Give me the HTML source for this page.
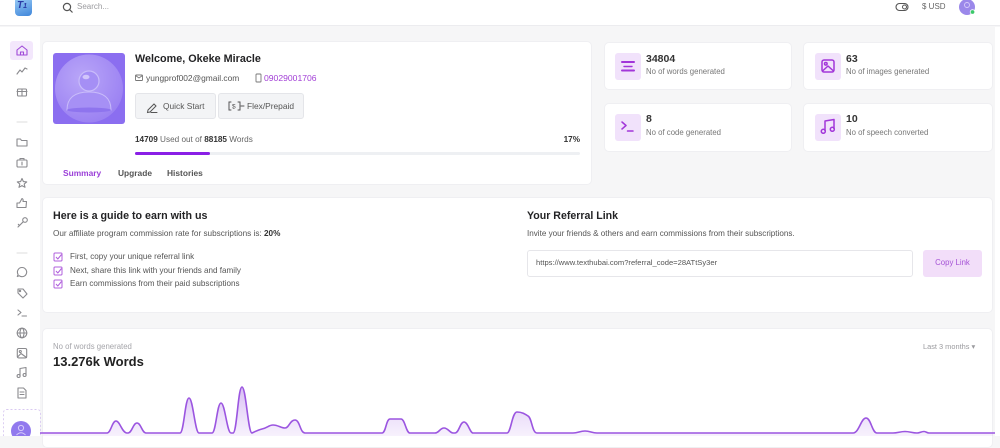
<!DOCTYPE html>
<html><head><meta charset="utf-8">
<style>
*{margin:0;padding:0;box-sizing:border-box}
body{width:1000px;height:436px;overflow:hidden;background:#f6f6f7;font-family:"Liberation Sans",Arial,sans-serif;position:relative;color:#333}
.a{position:absolute}
.t{position:absolute;white-space:nowrap;line-height:12px;height:12px}
.card{position:absolute;background:#fff;border-radius:5px;border:1px solid #efeff2}
.btn{position:absolute;background:#f3f4f6;border:1px solid #e4e5e9;border-radius:3px}
b{font-weight:bold}
</style></head><body>
<!-- top bar -->
<div class="a" style="left:0;top:0;width:1000px;height:26px;background:#fff;border-bottom:1px solid #ececef"></div>
<!-- sidebar -->
<div class="a" style="left:0;top:27px;width:40px;height:409px;background:#fff"></div>
<!-- right strip -->
<div class="a" style="left:995px;top:27px;width:5px;height:409px;background:#fff"></div>

<!-- cards -->
<div class="card" style="left:42px;top:41px;width:550px;height:144px"></div>
<div class="card" style="left:604px;top:42px;width:188px;height:48px"></div>
<div class="card" style="left:803px;top:42px;width:190px;height:48px"></div>
<div class="card" style="left:604px;top:103px;width:188px;height:49px"></div>
<div class="card" style="left:803px;top:103px;width:190px;height:49px"></div>
<div class="card" style="left:42px;top:197px;width:951px;height:116px"></div>
<div class="card" style="left:42px;top:328px;width:951px;height:120px"></div>

<!-- top bar content -->
<div class="a" style="left:15px;top:-3px;width:17px;height:19px;border-radius:4px;background:linear-gradient(160deg,#9fd0f7,#3f86da)"></div>
<div class="t" style="left:17px;top:0px;font-size:10px;font-weight:bold;font-style:italic;color:#2a3aa6;line-height:12px">T<span style="font-size:7px">1</span></div>
<div class="t" style="left:77px;top:1px;font-size:8px;color:#9a9a9e">Search...</div>
<div class="t" style="left:922px;top:1px;font-size:8px;color:#666">$ USD</div>

<!-- profile card -->
<div class="t" style="left:135px;top:53px;font-size:10.8px;font-weight:bold;color:#232325">Welcome, Okeke Miracle</div>
<div class="t" style="left:146px;top:72px;font-size:8.4px;color:#555">yungprof002@gmail.com</div>
<div class="t" style="left:264px;top:72px;font-size:8.6px;color:#a23fd6">09029001706</div>
<div class="btn" style="left:135px;top:93px;width:81px;height:26px"></div>
<div class="btn" style="left:218px;top:93px;width:86px;height:26px"></div>
<div class="t" style="left:163px;top:100px;font-size:8.4px;color:#555">Quick Start</div>
<div class="t" style="left:247px;top:100px;font-size:8.4px;color:#555">Flex/Prepaid</div>
<div class="t" style="left:135px;top:134px;font-size:8.2px;color:#666"><b style="color:#333">14709</b> Used out of <b style="color:#333">88185</b> Words</div>
<div class="t" style="left:540px;top:134px;width:40px;text-align:right;font-size:8.2px;font-weight:bold;color:#333">17%</div>
<div class="a" style="left:135px;top:152px;width:445px;height:3px;background:#eef0f3;border-radius:2px"></div>
<div class="a" style="left:135px;top:152px;width:75px;height:3px;background:#8a1fe6;border-radius:2px"></div>
<div class="t" style="left:63px;top:167px;font-size:8.4px;font-weight:bold;color:#9b3fd8">Summary</div>
<div class="t" style="left:118px;top:167px;font-size:8.4px;font-weight:bold;color:#555">Upgrade</div>
<div class="t" style="left:167px;top:167px;font-size:8.4px;font-weight:bold;color:#555">Histories</div>

<!-- stat cards -->
<div class="a" style="left:615px;top:53px;width:26px;height:27px;border-radius:3px;background:#f1e2fb"></div>
<div class="a" style="left:815px;top:53px;width:26px;height:27px;border-radius:3px;background:#f1e2fb"></div>
<div class="a" style="left:615px;top:114px;width:26px;height:27px;border-radius:3px;background:#f1e2fb"></div>
<div class="a" style="left:815px;top:114px;width:26px;height:27px;border-radius:3px;background:#f1e2fb"></div>
<div class="t" style="left:646px;top:53px;font-size:10.5px;font-weight:bold;color:#333">34804</div>
<div class="t" style="left:646px;top:66px;font-size:7.8px;color:#777">No of words generated</div>
<div class="t" style="left:846px;top:53px;font-size:10.5px;font-weight:bold;color:#333">63</div>
<div class="t" style="left:846px;top:66px;font-size:7.8px;color:#777">No of images generated</div>
<div class="t" style="left:646px;top:113px;font-size:10.5px;font-weight:bold;color:#333">8</div>
<div class="t" style="left:646px;top:127px;font-size:7.8px;color:#777">No of code generated</div>
<div class="t" style="left:846px;top:113px;font-size:10.5px;font-weight:bold;color:#333">10</div>
<div class="t" style="left:846px;top:127px;font-size:7.8px;color:#777">No of speech converted</div>

<!-- guide card -->
<div class="t" style="left:53px;top:210px;font-size:10.7px;font-weight:bold;color:#232325">Here is a guide to earn with us</div>
<div class="t" style="left:53px;top:228px;font-size:8.2px;color:#555">Our affiliate program commission rate for subscriptions is: <b style="color:#333">20%</b></div>
<div class="t" style="left:70px;top:251px;font-size:8.1px;color:#555">First, copy your unique referral link</div>
<div class="t" style="left:70px;top:265px;font-size:8.1px;color:#555">Next, share this link with your friends and family</div>
<div class="t" style="left:70px;top:278px;font-size:8.1px;color:#555">Earn commissions from their paid subscriptions</div>
<div class="t" style="left:527px;top:210px;font-size:10.6px;font-weight:bold;color:#232325">Your Referral Link</div>
<div class="t" style="left:527px;top:228px;font-size:8.1px;color:#555">Invite your friends &amp; others and earn commissions from their subscriptions.</div>
<div class="a" style="left:527px;top:250px;width:386px;height:27px;border:1px solid #e6e6ea;border-radius:3px;background:#fff"></div>
<div class="t" style="left:536px;top:257px;font-size:7.6px;color:#555">https://www.texthubai.com?referral_code=28ATtSy3er</div>
<div class="a" style="left:923px;top:250px;width:59px;height:27px;border-radius:3px;background:#f2def9"></div>
<div class="t" style="left:923px;top:257px;width:59px;text-align:center;font-size:7.8px;color:#a552d6">Copy Link</div>

<!-- chart card -->
<div class="t" style="left:53px;top:341px;font-size:7.8px;color:#a5a5aa">No of words generated</div>
<div class="t" style="left:53px;top:354px;font-size:13px;line-height:16px;height:16px;font-weight:bold;color:#222">13.276k Words</div>
<div class="t" style="left:923px;top:341px;font-size:7.4px;color:#9a9a9e">Last 3 months &#9662;</div>

<svg class="a" style="left:0;top:0" width="1000" height="436" viewBox="0 0 1000 436">
  <defs>
    <linearGradient id="g" x1="0" y1="387" x2="0" y2="436" gradientUnits="userSpaceOnUse">
      <stop offset="0" stop-color="#b07ce9" stop-opacity="0.5"/>
      <stop offset="1" stop-color="#c9a2f0" stop-opacity="0.15"/>
    </linearGradient>
    <radialGradient id="av" cx="0.4" cy="0.35" r="0.7">
      <stop offset="0" stop-color="#b9a6f8"/>
      <stop offset="1" stop-color="#9a80f2"/>
    </radialGradient>
  </defs>
  <!-- top bar icons -->
  <circle cx="67" cy="7" r="3.6" fill="none" stroke="#555" stroke-width="1.2"/>
  <line x1="69.7" y1="9.7" x2="72.5" y2="12.5" stroke="#555" stroke-width="1.2"/>
  <rect x="896" y="3.5" width="12" height="7" rx="3.5" fill="none" stroke="#555" stroke-width="1.1"/>
  <circle cx="904.5" cy="7" r="2" fill="none" stroke="#555" stroke-width="1"/>
  <circle cx="967" cy="7" r="8" fill="#9b88ea"/>
  <circle cx="967" cy="5" r="2.5" fill="none" stroke="#d8ccfb" stroke-width="0.9"/>
  <circle cx="972.5" cy="12" r="2.3" fill="#3cc86a" stroke="#fff" stroke-width="0.8"/>

  <!-- sidebar -->
  <rect x="10" y="41" width="23" height="19" rx="3" fill="#f3e7fc"/>
  <g fill="none" stroke="#a04bd8" stroke-width="1.1" stroke-linejoin="round">
    <path d="M17,50 L22,46 L27,50 L27,55 L17,55 Z"/>
    <path d="M20.5,55 L20.5,52 L23.5,52 L23.5,55"/>
  </g>
  <g fill="none" stroke="#8a8a8e" stroke-width="1.1" stroke-linejoin="round" stroke-linecap="round">
    <polyline points="17,74 20,70 22,72 25,68 27,69"/>
    <rect x="17.5" y="89" width="9" height="7" rx="1"/><line x1="22" y1="89" x2="22" y2="96"/><line x1="17" y1="91.5" x2="27" y2="91.5"/>
    <line x1="17" y1="122" x2="27" y2="122" stroke="#ddd"/>
    <path d="M17,139 L20.5,139 L21.5,140.5 L27,140.5 L27,146 L17,146 Z"/>
    <rect x="17" y="160" width="10" height="7" rx="1"/><path d="M20,160 L20,158.5 L24,158.5 L24,160"/><line x1="22" y1="162" x2="22" y2="165"/>
    <path d="M22,178.5 L23.4,181.6 L26.7,181.9 L24.2,184 L25,187.3 L22,185.6 L19,187.3 L19.8,184 L17.3,181.9 L20.6,181.6 Z"/>
    <path d="M17,203 L19.5,203 L22,198.5 Q23.5,199 23,201.5 L26.5,201.5 L26,207.5 L17,207.5 Z"/>
    <circle cx="25" cy="220" r="2.3"/><line x1="23.3" y1="221.7" x2="18" y2="227"/><line x1="19.5" y1="225.5" x2="18.3" y2="224.3"/>
    <line x1="17" y1="253" x2="27" y2="253" stroke="#ddd"/>
    <path d="M22,267.5 A4.6,4.6 0 1 1 19.2,275.7 L17.3,276.5 L18.1,274.5 A4.6,4.6 0 0 1 22,267.5 Z"/>
    <path d="M18,289 L23,289 L27,294 L23,298 L18,293 Z"/><circle cx="20" cy="291" r="0.7"/>
    <polyline points="18,310 21,312.5 18,315"/><line x1="22" y1="316" x2="26.5" y2="316"/>
    <circle cx="22" cy="333" r="4.8"/><ellipse cx="22" cy="333" rx="2" ry="4.8"/><line x1="17.2" y1="333" x2="26.8" y2="333"/>
    <rect x="17.3" y="348.5" width="9.4" height="9.4" rx="1.5"/><circle cx="20.3" cy="351.5" r="1"/><polyline points="17.5,357 21,353.5 26.5,357.5"/>
    <path d="M20,376 L20,368.5 L26,367.5 L26,375"/><circle cx="18.6" cy="376" r="1.5"/><circle cx="24.6" cy="375" r="1.5"/>
    <path d="M18,388 L23.5,388 L26,390.5 L26,398 L18,398 Z"/><line x1="20" y1="392" x2="24" y2="392"/><line x1="20" y1="394.5" x2="24" y2="394.5"/>
  </g>
  <rect x="3.5" y="409.5" width="37" height="30" rx="3" fill="none" stroke="#d9c9f1" stroke-width="0.9" stroke-dasharray="2,2"/>
  <circle cx="21" cy="431" r="10" fill="#9179ee"/>
  <circle cx="21" cy="428" r="2.6" fill="none" stroke="#d6cbfa" stroke-width="1"/>
  <path d="M16.5,435 Q21,430.5 25.5,435" fill="none" stroke="#d6cbfa" stroke-width="1"/>

  <!-- profile avatar -->
  <rect x="53" y="53" width="72" height="71" rx="3" fill="#8b6ef0"/>
  <circle cx="89" cy="88.5" r="34" fill="url(#av)"/>
  <circle cx="89" cy="81" r="10" fill="#a58ff5" stroke="#c9bcfa" stroke-width="1.2"/>
  <ellipse cx="86" cy="77" rx="3.5" ry="2.3" fill="#ddd3fc" opacity="0.8"/>
  <path d="M67,110 Q67,92 89,92 Q111,92 111,110 Z" fill="#a690f5" stroke="#c9bcfa" stroke-width="1"/>
  <ellipse cx="89" cy="110" rx="22" ry="2.5" fill="#8e74ee"/>

  <!-- profile small icons -->
  <g fill="none" stroke="#777" stroke-width="0.9">
    <rect x="135.5" y="75" width="7" height="5.5" rx="0.8"/><polyline points="135.5,75.5 139,78 142.5,75.5"/>
    <rect x="256" y="74" width="5" height="8" rx="0.8"/>
  </g>
  <g fill="none" stroke="#555" stroke-width="1" stroke-linecap="round">
    <path d="M148,110 L154,104 L156,106 L150,112 L147.5,112.5 Z"/><line x1="151" y1="112.5" x2="157" y2="112.5"/>
    <path d="M231,102 L229,102 L229,110 L231,110"/><path d="M238,102 L240,102 L240,110 L238,110"/>
    <line x1="241" y1="106" x2="244" y2="106"/>
  </g>
  <text x="232" y="108.5" font-family="Liberation Sans, sans-serif" font-size="6.5" fill="#555">$</text>

  <!-- stat icons -->
  <g fill="none" stroke="#a236d9" stroke-width="2" stroke-linecap="round">
    <line x1="622" y1="62" x2="634" y2="62"/><line x1="624" y1="66.5" x2="632" y2="66.5" stroke-width="1.4"/><line x1="622" y1="70.5" x2="634" y2="70.5"/>
  </g>
  <g fill="none" stroke="#a236d9" stroke-width="1.5" stroke-linejoin="round">
    <rect x="822" y="60" width="12" height="12" rx="2"/><circle cx="825.8" cy="63.8" r="1.3"/><polyline points="822.5,71 828,66 833.5,71"/>
  </g>
  <g fill="none" stroke="#a236d9" stroke-width="1.5" stroke-linecap="round" stroke-linejoin="round">
    <polyline points="622,122 626,125.5 622,129"/><line x1="627.5" y1="131" x2="633" y2="131"/>
  </g>
  <g fill="none" stroke="#a236d9" stroke-width="1.5" stroke-linejoin="round">
    <path d="M825,131 L825,121 L834,119.5 L834,129"/><circle cx="823.3" cy="131.3" r="2"/><circle cx="832.3" cy="129.3" r="2"/>
  </g>

  <!-- check icons -->
  <g fill="none" stroke="#b060dc" stroke-width="1" stroke-linejoin="round">
    <rect x="54" y="253" width="8" height="8" rx="1"/><polyline points="56,257 57.8,259 61.5,254.5"/>
    <rect x="54" y="267" width="8" height="8" rx="1"/><polyline points="56,271 57.8,273 61.5,268.5"/>
    <rect x="54" y="280" width="8" height="8" rx="1"/><polyline points="56,284 57.8,286 61.5,281.5"/>
  </g>

  <!-- chart -->
  <path fill="url(#g)" d="M43,433 L107,433 C111,433 112,421 116,421 C120,421 122,433 127,433 L128,433 C132,433 133,423 137,423 C141,423 142,433 146,433 L180,433 C184,433 185,398 189,398 C193,398 195,433 199,433 L212,433 C216,433 217,403 221,403 C225,403 227,433 231,433 L233,433 C237,433 238,387 242,387 C246,387 248,433 252,433 C256,431 258,430 262,429 C267,428 269,425 273,425 C278,425 281,428 285,428 C289,428 290,420 295,420 C300,420 300,433 305,433 L382,433 C386,433 386,419 390,419 L401,419 C405,419 406,433 410,433 L435,433 C439,433 440,428 444,428 C448,428 450,433 453,433 L455,433 C459,433 460,422 464,422 C468,422 470,433 473,433 L507,433 C511,433 512,412 517,412 C522,412 525,414 528,416 C532,418 532,433 537,433 L573,433 C578,433 580,431 585,431 C590,431 592,433 597,433 L853,433 C859,433 861,418 866,418 C871,418 872,433 877,433 L893,433 C898,433 900,431.5 905,431.5 C910,431.5 912,433 917,433 C920,433 921,431.5 924,431.5 C926,431.5 927,433 929,433 L993,433 L993,437 L43,437 Z"/>
  <path fill="none" stroke="#9b55e0" stroke-width="1.6" stroke-linejoin="round" d="M40,433 L107,433 C111,433 112,421 116,421 C120,421 122,433 127,433 L128,433 C132,433 133,423 137,423 C141,423 142,433 146,433 L180,433 C184,433 185,398 189,398 C193,398 195,433 199,433 L212,433 C216,433 217,403 221,403 C225,403 227,433 231,433 L233,433 C237,433 238,387 242,387 C246,387 248,433 252,433 C256,431 258,430 262,429 C267,428 269,425 273,425 C278,425 281,428 285,428 C289,428 290,420 295,420 C300,420 300,433 305,433 L382,433 C386,433 386,419 390,419 L401,419 C405,419 406,433 410,433 L435,433 C439,433 440,428 444,428 C448,428 450,433 453,433 L455,433 C459,433 460,422 464,422 C468,422 470,433 473,433 L507,433 C511,433 512,412 517,412 C522,412 525,414 528,416 C532,418 532,433 537,433 L573,433 C578,433 580,431 585,431 C590,431 592,433 597,433 L853,433 C859,433 861,418 866,418 C871,418 872,433 877,433 L893,433 C898,433 900,431.5 905,431.5 C910,431.5 912,433 917,433 C920,433 921,431.5 924,431.5 C926,431.5 927,433 929,433 L995,433"/>
</svg>
</body></html>
